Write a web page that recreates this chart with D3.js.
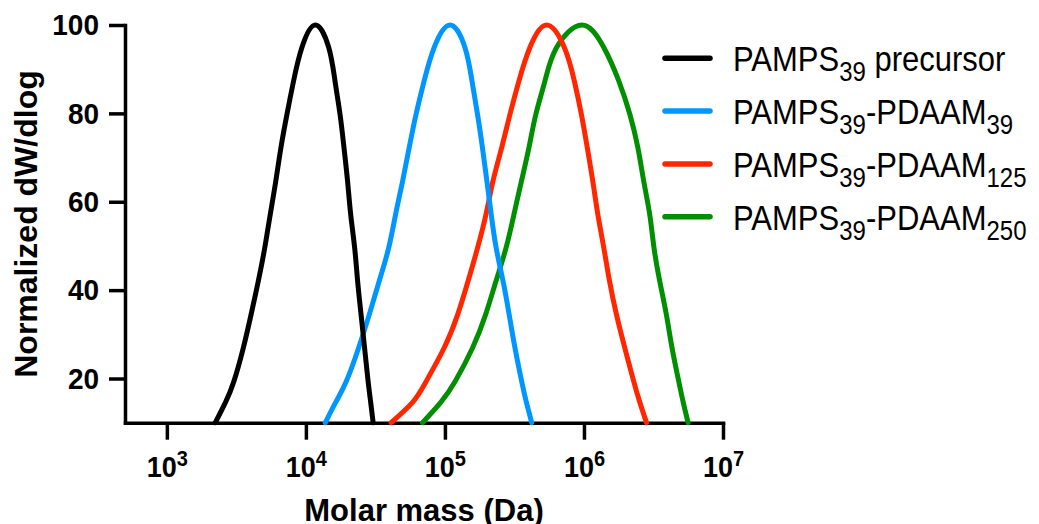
<!DOCTYPE html>
<html>
<head>
<meta charset="utf-8">
<script src="https://cdn.jsdelivr.net/npm/d3@7"></script>
<style>
  html, body { margin: 0; padding: 0; background: #fff; }
  svg text { font-family: "Liberation Sans", Arial, Helvetica, sans-serif; }
</style>
</head>
<body>
<svg id="chart" width="1039" height="524"></svg>
<script>
// legend labels, split into [text, isSubscript] parts
const seriesNames = [
  [['PAMPS', 0], ['39', 1], [' precursor', 0]],
  [['PAMPS', 0], ['39', 1], ['-PDAAM', 0], ['39', 1]],
  [['PAMPS', 0], ['39', 1], ['-PDAAM', 0], ['125', 1]],
  [['PAMPS', 0], ['39', 1], ['-PDAAM', 0], ['250', 1]]
];
const seriesColors = ['#000000', '#0096FF', '#FF2600', '#008F00'];

// normalized dW/dlog, read at fixed heights (rising side, peak, falling side)
const dwLevels = [10, 14.6, 19.3, 26.9, 34.4, 42, 49.5, 57.1, 64.6, 72.2, 79.8, 87.3, 94.9, 100,
  94.9, 87.3, 79.8, 72.2, 64.6, 57.1, 49.5, 42, 34.4, 26.9, 19.3, 14.6, 10];

// molar mass (Da) where each curve crosses those heights
const massPrecursor = [2230, 2640, 3030, 3545, 4030, 4545, 5055, 5540, 6070, 6610, 7310, 8150, 9360, 11700,
  14600, 16200, 17600, 18800, 19950, 21000, 22440, 23560, 24950, 26440, 28030, 29250, 30460];
const massPdaam39 = [13800, 16370, 19500, 23930, 28510, 33650, 39360, 44160, 49550, 55300, 62000, 70800, 83600, 108900,
  139300, 156600, 171500, 186200, 200500, 215300, 233800, 262000, 290000, 319200, 356500, 385500, 420700];
const massPdaam125 = [41000, 58500, 73100, 98600, 123300, 146600, 171500, 197300, 221300, 255700, 293800, 340400, 408300, 538300,
  722800, 853000, 957800, 1057000, 1158000, 1259000, 1390000, 1528000, 1715000, 1968000, 2282000, 2523000, 2818000];
const massPdaam250 = [69000, 93300, 118300, 157800, 195800, 232800, 274800, 313500, 354800, 401800, 450800, 523600, 635300, 966100,
  1390000, 1782000, 2138000, 2443000, 2692000, 2972000, 3192000, 3508000, 3917000, 4302000, 4808000, 5176000, 5610000];

const xTickValues = [1e3, 1e4, 1e5, 1e6, 1e7];
const xTickExponents = ['3', '4', '5', '6', '7'];
const yTickValues = [20, 40, 60, 80, 100];

const svg = d3.select('#chart');

const x = d3.scaleLog().domain([500, 1e7]).range([125, 723]);
const y = d3.scaleLinear().domain([10, 100]).range([422.7, 25]);

// axes
const xAxis = svg.append('g')
  .attr('transform', 'translate(0,422.7)')
  .call(d3.axisBottom(x).tickValues(xTickValues).tickSize(17).tickSizeOuter(0).tickFormat(() => ''));

xAxis.selectAll('.tick').append('text')
  .attr('transform', 'translate(0,54) scale(1,1.08)')
  .attr('fill', '#000')
  .attr('text-anchor', 'middle')
  .style('font-size', '27px')
  .style('font-weight', 'bold')
  .each(function(d, i) {
    const t = d3.select(this);
    t.append('tspan').text('10');
    t.append('tspan').attr('dy', -10).style('font-size', '20px').text(xTickExponents[i]);
  });

const yAxis = svg.append('g')
  .attr('transform', 'translate(125,0)')
  .call(d3.axisLeft(y).tickValues(yTickValues).tickSize(16).tickSizeOuter(0).tickPadding(10));

yAxis.selectAll('.tick text')
  .attr('fill', '#000')
  .attr('transform', 'scale(1,1.08)')
  .style('font-size', '28px')
  .style('font-weight', 'bold');

[xAxis, yAxis].forEach(g => {
  g.attr('font-family', null).attr('font-size', null);
  g.select('.domain').attr('stroke', '#000').attr('stroke-width', 3.5).attr('stroke-linecap', 'square');
  g.selectAll('.tick line').attr('stroke', '#000').attr('stroke-width', 3.5);
});

// axis titles
svg.append('text')
  .attr('x', 424).attr('y', 521)
  .attr('text-anchor', 'middle')
  .style('font-size', '31px')
  .style('font-weight', 'bold')
  .text('Molar mass (Da)');

svg.append('text')
  .attr('transform', 'translate(36.7,224) rotate(-90)')
  .attr('text-anchor', 'middle')
  .style('font-size', '32px')
  .style('font-weight', 'bold')
  .text('Normalized dW/dlog');

// curves
const seriesMasses = [massPrecursor, massPdaam39, massPdaam125, massPdaam250];

const line = d3.line()
  .x(d => x(d[0]))
  .y(d => y(d[1]))
  .curve(d3.curveNatural);

const order = [3, 2, 1, 0];
svg.append('g').selectAll('path')
  .data(order)
  .join('path')
  .attr('fill', 'none')
  .attr('stroke', i => seriesColors[i])
  .attr('stroke-width', 5)
  .attr('stroke-linecap', 'round')
  .attr('stroke-linejoin', 'round')
  .attr('d', i => line(seriesMasses[i].map((m, j) => [m, dwLevels[j]])));

// legend
const legend = svg.append('g');
seriesNames.forEach((parts, i) => {
  const ly = 58.3 + i * 52.8;
  legend.append('line')
    .attr('x1', 665).attr('x2', 710)
    .attr('y1', ly).attr('y2', ly)
    .attr('stroke', seriesColors[i])
    .attr('stroke-width', 5.5)
    .attr('stroke-linecap', 'round');

  const t = legend.append('text')
    .attr('transform', `translate(733,${ly + 13}) scale(1,1.12)`)
    .style('font-size', '31px');
  let shifted = false;
  parts.forEach(([str, sub]) => {
    const span = t.append('tspan').text(str);
    if (sub && !shifted) { span.attr('dy', 9).style('font-size', '24px'); shifted = true; }
    else if (sub) { span.style('font-size', '24px'); }
    else if (shifted) { span.attr('dy', -9); shifted = false; }
  });
});
</script>
</body>
</html>
